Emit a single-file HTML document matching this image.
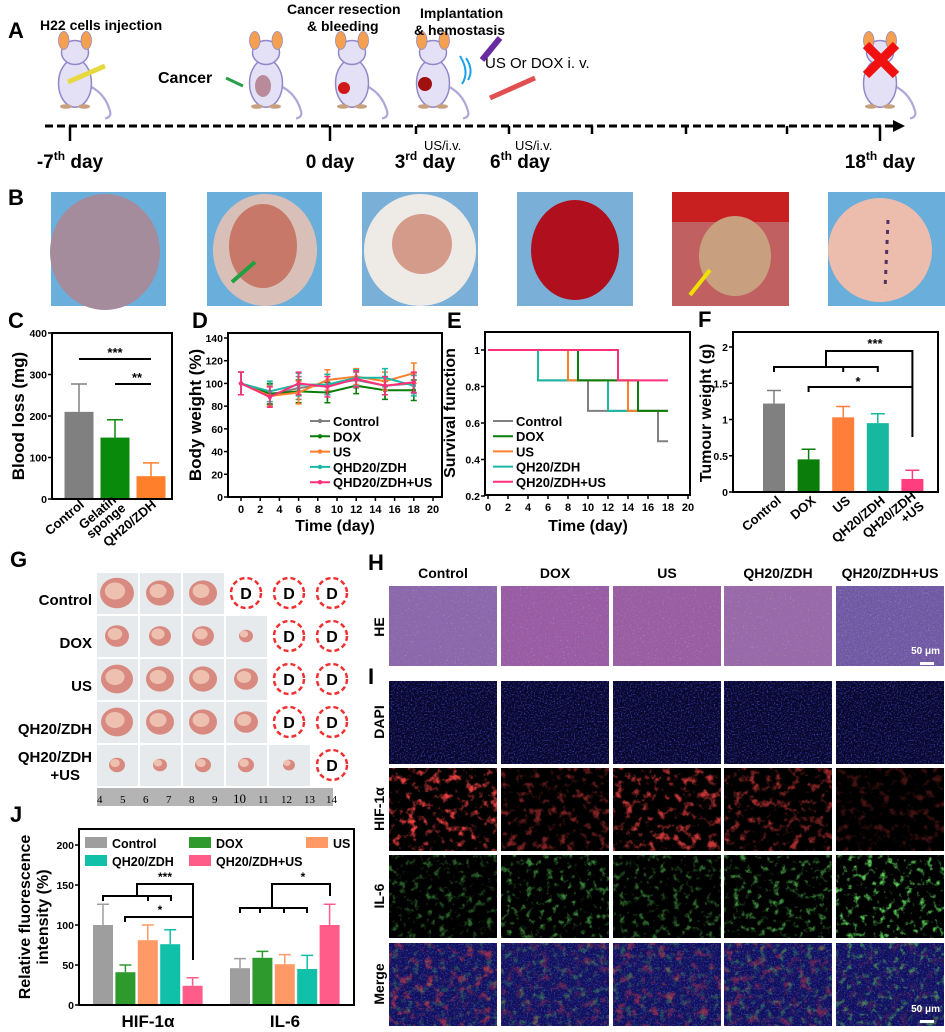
<!DOCTYPE html>
<html><head><meta charset="utf-8"><style>
body{margin:0;background:#fff}
svg{display:block;font-family:"Liberation Sans",Arial,sans-serif}
.b{font-weight:bold}
</style></head><body>
<svg id="fig" width="945" height="1032" viewBox="0 0 945 1032" xmlns="http://www.w3.org/2000/svg">
<defs>
<filter id="heT" x="0" y="0" width="1" height="1"><feTurbulence type="fractalNoise" baseFrequency="0.7" numOctaves="2" seed="3"/><feColorMatrix type="matrix" values="0 0 0 0 0.3  0 0 0 0 0.15  0 0 0 0 0.5  2.4 0 0 0 -1"/></filter>
<filter id="heL" x="0" y="0" width="1" height="1"><feTurbulence type="fractalNoise" baseFrequency="0.6" numOctaves="1" seed="11"/><feColorMatrix type="matrix" values="0 0 0 0 0.85  0 0 0 0 0.7  0 0 0 0 0.85  3 0 0 0 -1.9"/></filter>
<filter id="blT" x="0" y="0" width="1" height="1"><feTurbulence type="fractalNoise" baseFrequency="0.7" numOctaves="1" seed="5"/><feColorMatrix type="matrix" values="0 0 0 0 0.1  0 0 0 0 0.1  0 0 0 0 0.85  3 0 0 0 -1.5"/></filter>
<filter id="rdT" x="0" y="0" width="1" height="1"><feTurbulence type="fractalNoise" baseFrequency="0.12" numOctaves="4" seed="7"/><feColorMatrix type="matrix" values="0 0 0 0 0.8  0 0 0 0 0.05  0 0 0 0 0.05  4 0 0 0 -2.1"/></filter>
<filter id="gnT" x="0" y="0" width="1" height="1"><feTurbulence type="fractalNoise" baseFrequency="0.15" numOctaves="4" seed="9"/><feColorMatrix type="matrix" values="0 0 0 0 0.1  0 0 0 0 0.6  0 0 0 0 0.1  4 0 0 0 -2.2"/></filter>
<g id="mouse">
<path d="M22 60 Q40 70 46 90 Q50 100 40 102" fill="none" stroke="#b0a8d8" stroke-width="3"/>
<ellipse cx="0" cy="55" rx="22" ry="32" fill="#e4e0f6" stroke="#9088c8" stroke-width="2"/>
<ellipse cx="0" cy="14" rx="18" ry="16" fill="#e4e0f6" stroke="#9088c8" stroke-width="2"/>
<ellipse cx="-15" cy="-2" rx="7" ry="12" fill="#f4a050" stroke="#9088c8"/>
<ellipse cx="15" cy="-2" rx="7" ry="12" fill="#f4a050" stroke="#9088c8"/>
<ellipse cx="-12" cy="86" rx="8" ry="3" fill="#c8a080"/><ellipse cx="12" cy="86" rx="8" ry="3" fill="#c8a080"/>
</g>
</defs>

<!-- Panel A -->
<g>
<text x="8" y="38" class="b" font-size="22">A</text>
<use href="#mouse" transform="translate(75 42) scale(0.75)"/>
<use href="#mouse" transform="translate(266 42) scale(0.75)"/>
<use href="#mouse" transform="translate(352 42) scale(0.75)"/>
<use href="#mouse" transform="translate(433 42) scale(0.75)"/>
<use href="#mouse" transform="translate(880 42) scale(0.75)"/>
<text x="40" y="30" class="b" font-size="14">H22 cells injection</text>
<text x="287" y="14" class="b" font-size="14">Cancer resection</text>
<text x="307" y="31" class="b" font-size="14">&amp; bleeding</text>
<text x="420" y="18" class="b" font-size="14">Implantation</text>
<text x="414" y="35" class="b" font-size="14">&amp; hemostasis</text>
<text x="485" y="68" font-size="15">US Or DOX i. v.</text>
<text x="158" y="83" class="b" font-size="16">Cancer</text>
<path d="M226 78 L243 86" stroke="#2a9d4a" stroke-width="3"/>
<ellipse cx="263" cy="86" rx="8" ry="11" fill="#b88a9a"/>
<circle cx="344" cy="88" r="6" fill="#d01818"/>
<circle cx="425" cy="84" r="7" fill="#a01010"/>
<path d="M68 82 L105 66" stroke="#e8d840" stroke-width="5"/>
<path d="M490 98 L535 78" stroke="#e05050" stroke-width="5"/>
<path d="M482 60 L500 38" stroke="#6a2aa0" stroke-width="6"/>
<path d="M466 58 Q474 70 468 80 M460 56 Q470 72 462 84" fill="none" stroke="#1aa0e8" stroke-width="2"/>
<path d="M866 45 L896 75 M896 45 L866 75" stroke="#f01010" stroke-width="9"/>
<line x1="45" y1="126" x2="895" y2="126" stroke="#000" stroke-width="3" stroke-dasharray="8,4"/>
<path d="M893 120 L905 126 L893 132 Z" fill="#000"/>
<g stroke="#000" stroke-width="2.5">
<line x1="70" y1="126" x2="70" y2="141"/><line x1="330" y1="126" x2="330" y2="141"/><line x1="416" y1="126" x2="416" y2="134"/><line x1="509" y1="126" x2="509" y2="134"/><line x1="592" y1="126" x2="592" y2="134"/><line x1="686" y1="126" x2="686" y2="134"/><line x1="787" y1="126" x2="787" y2="134"/><line x1="880" y1="126" x2="880" y2="141"/>
</g>
<g class="b" font-size="19" text-anchor="middle">
<text x="70" y="168">-7<tspan font-size="12" dy="-8">th</tspan><tspan dy="8"> day</tspan></text>
<text x="330" y="168">0 day</text>
<text x="425" y="168">3<tspan font-size="12" dy="-8">rd</tspan><tspan dy="8"> day</tspan></text>
<text x="520" y="168">6<tspan font-size="12" dy="-8">th</tspan><tspan dy="8"> day</tspan></text>
<text x="880" y="168">18<tspan font-size="12" dy="-8">th</tspan><tspan dy="8"> day</tspan></text>
</g>
<text x="424" y="150" font-size="13">US/i.v.</text>
<text x="515" y="150" font-size="13">US/i.v.</text>
</g>

<!-- Panel B -->
<g>
<text x="8" y="205" class="b" font-size="22">B</text>
<g><rect x="51" y="192" width="115" height="114" fill="#6aaedc"/><ellipse cx="105" cy="252" rx="55" ry="58" fill="#a48c9c"/></g>
<g><rect x="207" y="192" width="115" height="114" fill="#6aaedc"/><ellipse cx="265" cy="250" rx="52" ry="56" fill="#d8c0b8"/><ellipse cx="263" cy="246" rx="34" ry="42" fill="#c87868"/><path d="M232 282 L255 262" stroke="#20a040" stroke-width="4"/></g>
<g><rect x="362" y="192" width="116" height="114" fill="#7ab0d8"/><ellipse cx="420" cy="250" rx="56" ry="56" fill="#eeeae6"/><ellipse cx="422" cy="244" rx="30" ry="30" fill="#d49a8a"/></g>
<g><rect x="517" y="192" width="116" height="114" fill="#7ab0d8"/><ellipse cx="575" cy="250" rx="44" ry="50" fill="#b0101e"/></g>
<g><rect x="672" y="192" width="117" height="114" fill="#c06060"/><rect x="672" y="192" width="117" height="30" fill="#c82020"/><ellipse cx="735" cy="256" rx="36" ry="40" fill="#c8a080"/><path d="M690 295 L710 270" stroke="#f0e000" stroke-width="4"/></g>
<g><rect x="828" y="192" width="117" height="114" fill="#6aaedc"/><ellipse cx="880" cy="250" rx="52" ry="52" fill="#ecbcac"/><path d="M888 220 L885 290" stroke="#503060" stroke-width="3" stroke-dasharray="4,6"/></g>
</g>

<text x="8" y="328" class="b" font-size="22">C</text>
<text x="192" y="328" class="b" font-size="22">D</text>
<text x="447" y="328" class="b" font-size="22">E</text>
<text x="698" y="327" class="b" font-size="22">F</text>
<text x="10" y="567" class="b" font-size="22">G</text>
<text x="368" y="570" class="b" font-size="22">H</text>
<text x="368" y="684" class="b" font-size="22">I</text>
<text x="10" y="822" class="b" font-size="22">J</text>

<g id="charts"></g>

<g id="panelG">
<g class="b" font-size="15" text-anchor="end">
<text x="92" y="605">Control</text>
<text x="92" y="648">DOX</text>
<text x="92" y="691">US</text>
<text x="92" y="734">QH20/ZDH</text>
<text x="92" y="762">QH20/ZDH</text>
<text x="80" y="780">+US</text>
</g>
<rect x="97" y="788" width="236" height="18" fill="#b4b4b4"/>
<g font-family="Liberation Serif,serif" font-size="11">
<text x="97" y="803">4</text><text x="120" y="803">5</text><text x="143" y="803">6</text><text x="166" y="803">7</text><text x="189" y="803">8</text><text x="212" y="803">9</text><text x="233" y="803" font-size="13">10</text><text x="258" y="803">11</text><text x="281" y="803">12</text><text x="304" y="803">13</text><text x="326" y="803">14</text>
</g>
</g>

<g id="panelHI"></g>
</svg>
<script>
const NS='http://www.w3.org/2000/svg';
function mk(tag,attrs,parent){const e=document.createElementNS(NS,tag);for(const k in attrs)e.setAttribute(k,attrs[k]);if(parent)parent.appendChild(e);return e;}
function tx(str,attrs,parent){const e=mk('text',attrs,parent);e.textContent=str;return e;}
const charts=document.getElementById('charts');

// ---------- data ----------
const cCats=['Control','Gelatin sponge','QH20/ZDH'];
const cVals=[210,148,55];
const cErr=[67,43,32];
const cTicks=[0,100,200,300,400];

const dDays=[0,3,6,9,12,15,18];
const dSeriesNames=['Control','DOX','US','QHD20/ZDH','QHD20/ZDH+US'];
const dControl=[100,90,96,99,103,98,100];
const dDox=[100,91,93,92,98,94,94];
const dUs=[100,89,92,103,106,102,109];
const dQh=[100,93,99,99,105,105,98];
const dQhUs=[100,88,100,97,104,98,101];
const dErr=[10,9,10,9,7,8,9];
const dYTicks=[0,20,40,60,80,100,120,140];
const dXTicks=[0,2,4,6,8,10,12,14,16,18,20];

const eNames=['Control','DOX','US','QH20/ZDH','QH20/ZDH+US'];
const eDropControl=[5,10,17];
const eDropDox=[9,15];
const eDropUs=[8,14];
const eDropQh=[5,12];
const eDropQhUs=[13];
const eYTicks=[0.2,0.4,0.6,0.8,1];
const eXTicks=[0,2,4,6,8,10,12,14,16,18,20];

const fCats=['Control','DOX','US','QH20/ZDH','QH20/ZDH +US'];
const fVals=[1.22,0.45,1.03,0.95,0.18];
const fErr=[0.18,0.14,0.15,0.13,0.12];
const fTicks=[0,0.5,1,1.5,2];

const jGroups=['HIF-1α','IL-6'];
const jNames=['Control','DOX','US','QH20/ZDH','QH20/ZDH+US'];
const jHif=[100,41,81,76,24];
const jHifErr=[26,9,19,18,10];
const jIl6=[46,59,51,45,100];
const jIl6Err=[12,8,12,17,26];
const jTicks=[0,50,100,150,200];

const gRows=['Control','DOX','US','QH20/ZDH','QH20/ZDH+US'];
const gTumorCounts=[3,4,4,4,5];
const gSizes=[[17,14,14],[12,11,11,7],[16,14,14,12],[16,14,14,12],[8,7,8,8,6]];

const COL5=['#808080','#0a7d0a','#ff7f2a','#1ab8a4','#ff2f7a'];

function yAxis(g,x,ticks,sc,fmt){
  for(const t of ticks){
    const y=sc(t);
    const l=mk('line',{x1:x-4,y1:y,x2:x,y2:y,stroke:'#000','stroke-width':1.5},g);
    
    
    const lb=tx(fmt?fmt(t):String(t),{x:x-5,y:y+4,'text-anchor':'end','font-size':10.5,'font-weight':'bold'},g);
    
    
  }
}
function xAxisTicks(g,y,ticks,sc){
  for(const t of ticks){
    const x=sc(t);
    const l=mk('line',{x1:x,y1:y,x2:x,y2:y+4,stroke:'#000','stroke-width':1.5},g);
    
    
    const lb=tx(String(t),{x:x,y:y+16,'text-anchor':'middle','font-size':11,'font-weight':'bold'},g);
    
    
  }
}
function frame(g,x1,y1,x2,y2){
  const r=mk('rect',{x:x1,y:y1,width:x2-x1,height:y2-y1,fill:'none',stroke:'#000','stroke-width':2},g);
  
  
}
function errBar(g,x,y1,y2,w,col){
  const p=mk('path',{d:`M${x} ${y1} V${y2} M${x-w} ${y2} H${x+w}`,stroke:col,'stroke-width':1.5,fill:'none'},g);
  
  
}
function ytitle(g,str,x,y,size){
  const t=tx(str,{x:x,y:y,'text-anchor':'middle','font-size':size||16,'font-weight':'bold',transform:`rotate(-90 ${x} ${y})`},g);
  
  
}
function line(g,d,col,w){
  return mk('path',{d:d,stroke:col,'stroke-width':w||2,fill:'none'},g);
}

// ---------- C ----------
(function(){
  const g=mk('g',{},charts);
  
  
  const X0=52,X1=172,Y0=499,Y1=333;
  const ys=v=>Y0-v*(Y0-Y1)/400;
  const xc=i=>79+i*36;
  const cols=['#808080','#0a8a0a','#ff7f2a'];
  cVals.forEach((v,i)=>{
    errBar(g,xc(i),ys(v),ys(v+cErr[i]),8,cols[i]);
    const b=mk('rect',{x:xc(i)-14.5,y:ys(v),width:29,height:Y0-ys(v),fill:cols[i]},g);
    
    
  });
  frame(g,X0,Y1,X1,Y0);
  yAxis(g,X0,cTicks,ys);
  ytitle(g,'Blood loss (mg)',24,416,17);
  const s1=line(g,`M${xc(0)} 359 H${xc(2)}`,'#000',2);
  
  
  const s2=line(g,`M${xc(1)} 384 H${xc(2)}`,'#000',2);
  
  
  const t1=tx('***',{x:(xc(0)+xc(2))/2,y:357,'text-anchor':'middle','font-size':13,'font-weight':'bold'},g);
  
  
  const t2=tx('**',{x:(xc(1)+xc(2))/2+4,y:382,'text-anchor':'middle','font-size':13,'font-weight':'bold'},g);
  
  
  const labs=[['Control'],['Gelatin','sponge'],['QH20/ZDH']];
  labs.forEach((ls,i)=>{
    const x=xc(i)+6,y=506;
    const t=mk('text',{x:x,y:y-(ls.length>1?6:0),'text-anchor':'end','font-size':13,'font-weight':'bold',transform:`rotate(-40 ${x} ${y})`},g);
    
    
    ls.forEach((s,k)=>{const sp=mk('tspan',{x:x+(k?2:0),dy:k?12:0},t);sp.textContent=s;});
  });
})();

// ---------- D ----------
(function(){
  const g=mk('g',{},charts);
  
  
  const X0=228,X1=442,Y0=497,Y1=333;
  const xs=d=>241+d*9.6;
  const ys=v=>Y0-v*(159/140);
  const series=[dControl,dDox,dUs,dQh,dQhUs];
  const cols=['#808080','#0a7d0a','#ff7f2a','#1ab8a4','#ff2f7a'];
  series.forEach((s,si)=>{
    const eg=mk('g',{},g);
    
    
    s.forEach((v,i)=>{errBar(eg,xs(dDays[i]),ys(v-dErr[i]),ys(v+dErr[i]),3,cols[si]);errBar(eg,xs(dDays[i]),ys(v+dErr[i]),ys(v-dErr[i]),3,cols[si]);});
    const p=line(eg,s.map((v,i)=>(i?'L':'M')+xs(dDays[i])+' '+ys(v)).join(' '),cols[si],2);
    
    
    s.forEach((v,i)=>{
      const c=mk('circle',{cx:xs(dDays[i]),cy:ys(v),r:2.2,fill:cols[si]},eg);
      
      
    });
  });
  frame(g,X0,Y1,X1,Y0);
  yAxis(g,X0,dYTicks,ys);
  xAxisTicks(g,Y0,dXTicks,xs);
  ytitle(g,'Body weight (%)',201,415,17);
  const xt=tx('Time (day)',{x:335,y:531,'text-anchor':'middle','font-size':16,'font-weight':'bold'},g);
  
  
  dSeriesNames.forEach((n,i)=>{
    const y=421+i*15.3;
    const le=mk('g',{},g);
    
    
    line(le,`M310 ${y} H330`,cols[i],2);
    mk('circle',{cx:320,cy:y,r:2.2,fill:cols[i]},le);
    tx(n,{x:333,y:y+5,'font-size':13,'font-weight':'bold'},le);
  });
})();

// ---------- E ----------
(function(){
  const g=mk('g',{},charts);
  
  
  const X0=485,X1=690,Y0=495,Y1=332;
  const xs=d=>488+d*10;
  const ys=v=>350+(1-v)*182.5;
  const drops=[eDropControl,eDropDox,eDropUs,eDropQh,eDropQhUs];
  const order=[0,3,2,1,4];
  order.forEach(si=>{
    let d=`M${xs(0)} ${ys(1)}`;let v=1;
    drops[si].forEach(t=>{d+=` H${xs(t)}`;v-=1/6;d+=` V${ys(v)}`;});
    d+=` H${xs(18)}`;
    const p=line(g,d,COL5[si],2);
    
    
  });
  frame(g,X0,Y1,X1,Y0);
  yAxis(g,X0,eYTicks,ys,t=>t===1?'1':t.toFixed(1));
  xAxisTicks(g,Y0,eXTicks,xs);
  ytitle(g,'Survival function',455,413,16);
  const xt=tx('Time (day)',{x:588,y:531,'text-anchor':'middle','font-size':16,'font-weight':'bold'},g);
  
  
  eNames.forEach((n,i)=>{
    const y=421+i*15.2;
    const le=mk('g',{},g);
    
    
    line(le,`M493 ${y} H513`,COL5[i],2);
    tx(n,{x:516,y:y+5,'font-size':13,'font-weight':'bold'},le);
  });
})();

// ---------- F ----------
(function(){
  const g=mk('g',{},charts);
  
  
  const X0=733,X1=938,Y0=492,Y1=332;
  const ys=v=>Y0-v*72.5;
  const xc=i=>774+i*34.6;
  const cols=['#808080','#0a7d0a','#ff7f3a','#17b8a0','#ff3d7f'];
  fVals.forEach((v,i)=>{
    errBar(g,xc(i),ys(v),ys(v+fErr[i]),7,cols[i]);
    const b=mk('rect',{x:xc(i)-11,y:ys(v),width:22,height:Y0-ys(v),fill:cols[i]},g);
    
    
  });
  frame(g,X0,Y1,X1,Y0);
  yAxis(g,X0,fTicks,ys);
  ytitle(g,'Tumour weight (g)',711,413,16);
  const br=line(g,`M${xc(0)} 372 V367 H${xc(3)} V372 M${xc(2)} 367 V372 M826 367 V351 H${xc(4)} V437 M${xc(1)} 392 V387 H${xc(4)}`,'#000',2);
  
  
  const s1=tx('***',{x:875,y:348,'text-anchor':'middle','font-size':13,'font-weight':'bold'},g);
  
  
  const s2=tx('*',{x:858,y:386,'text-anchor':'middle','font-size':13,'font-weight':'bold'},g);
  
  
  const labs=[['Control'],['DOX'],['US'],['QH20/ZDH'],['QH20/ZDH','+US']];
  labs.forEach((ls,i)=>{
    const x=xc(i)+8,y=502;
    const t=mk('text',{x:x,y:y-(ls.length>1?6:0),'text-anchor':'end','font-size':13,'font-weight':'bold',transform:`rotate(-40 ${x} ${y})`},g);
    
    
    ls.forEach((s,k)=>{const sp=mk('tspan',{x:x,dy:k?13:0},t);sp.textContent=s;});
  });
})();

// ---------- J ----------
(function(){
  const g=mk('g',{},charts);
  
  
  const X0=79,X1=354,Y0=1005,Y1=829;
  const ys=v=>Y0-v*0.8;
  const cols=['#9e9e9e','#2e9a2e','#ff9966','#10c0a8','#ff5c8a'];
  const groups=[[jHif,jHifErr,93],[jIl6,jIl6Err,230]];
  groups.forEach(([vals,errs,x0],gi)=>{
    vals.forEach((v,i)=>{
      const x=x0+i*22.4;
      errBar(g,x+10,ys(v),ys(v+errs[i]),6,cols[i]);
      const b=mk('rect',{x:x,y:ys(v),width:20,height:Y0-ys(v),fill:cols[i]},g);
      
      
    });
    const lb=tx(jGroups[gi],{x:x0+55,y:1027,'text-anchor':'middle','font-size':17,'font-weight':'bold'},g);
    
    
  });
  frame(g,X0,Y1,X1,Y0);
  yAxis(g,X0,jTicks,ys);
  ytitle(g,'Relative fluorescence',30,917,16);
  ytitle(g,'intensity (%)',48,917,16);
  const br=line(g,`M103 901 V896 H171 V901 M148 896 V901 M137 896 V884 H193 V960 M125 922 V917 H193 M240 913 V908 H307 V913 M260 908 V913 M284 908 V913 M272 908 V884 H330 V896`,'#000',2);
  
  
  [['***',165,881],['*',160,914],['*',303,881]].forEach(([s,x,y])=>{
    const t=tx(s,{x:x,y:y,'text-anchor':'middle','font-size':12,'font-weight':'bold'},g);
    
    
  });
  const lp=[[85,843],[189,843],[306,843],[85,861],[189,861]];
  jNames.forEach((n,i)=>{
    const le=mk('g',{},g);
    
    
    mk('rect',{x:lp[i][0],y:lp[i][1]-6,width:22,height:11,fill:cols[i]},le);
    tx(n,{x:lp[i][0]+27,y:lp[i][1]+5,'font-size':12.5,'font-weight':'bold'},le);
  });
})();

// ---------- G ----------
(function(){
  const g=document.getElementById('panelG');
  gRows.forEach((r,ri)=>{
    for(let c=0;c<6;c++){
      const x=97+c*43,y=573+ri*43;
      if(c<gTumorCounts[ri]){
        const cell=mk('g',{},g);
        
        
        mk('rect',{x:x,y:y,width:41,height:41,fill:'#e6eaec'},cell);
        const s=gSizes[ri][c];
        mk('ellipse',{cx:x+20,cy:y+20,rx:s,ry:s*0.9,fill:'#d88a80'},cell);
        mk('ellipse',{cx:x+18,cy:y+18,rx:s*0.6,ry:s*0.5,fill:'#eec0b0'},cell);
      } else if(x<340){
        const cell=mk('g',{},g);
        
        
        mk('circle',{cx:x+20,cy:y+20,r:15,fill:'none',stroke:'#f03030','stroke-width':2.5,'stroke-dasharray':'5,3'},cell);
        tx('D',{x:x+20,y:y+26,'text-anchor':'middle','font-size':16,'font-weight':'bold'},cell);
      }
    }
  });
})();

// ---------- H / I ----------
(function(){
  const g=document.getElementById('panelHI');
  const cols=['Control','DOX','US','QH20/ZDH','QH20/ZDH+US'];
  const xs=[389,501,613,724,836];
  cols.forEach((c,i)=>{
    const t=tx(c,{x:xs[i]+54,y:578,'text-anchor':'middle','font-size':14,'font-weight':'bold'},g);
    
    
  });
  const heBase=['#8a68a8','#9a5aa0','#9a5c9c','#9a6aa4','#6a58a0'];
  const rows=[['HE',586],['DAPI',681],['HIF-1α',768],['IL-6',855],['Merge',943]];
  const hifA=[1,0.55,0.85,0.7,0.3];
  const il6A=[0.5,0.65,0.55,0.7,1];
  rows.forEach(([lab,y],ri)=>{
    const lt=tx(lab,{x:384,y:y+41,'text-anchor':'middle','font-size':14,'font-weight':'bold',transform:`rotate(-90 384 ${y+41})`},g);
    
    
    xs.forEach((x,ci)=>{
      const im=mk('g',{},g);
      
      
      const h=ri===0?80:83;
      if(ri===0){
        mk('rect',{x:x,y:y,width:108,height:h,fill:heBase[ci]},im);
        mk('rect',{x:x,y:y,width:108,height:h,filter:'url(#heT)',opacity:0.8},im);
        mk('rect',{x:x,y:y,width:108,height:h,filter:'url(#heL)',opacity:0.5},im);
      } else if(ri===1){
        mk('rect',{x:x,y:y,width:108,height:h,fill:'#08082e'},im);
        mk('rect',{x:x,y:y,width:108,height:h,filter:'url(#blT)',opacity:0.75},im);
      } else if(ri===2){
        mk('rect',{x:x,y:y,width:108,height:h,fill:'#000'},im);
        mk('rect',{x:x,y:y,width:108,height:h,filter:'url(#rdT)',opacity:hifA[ci]},im);
      } else if(ri===3){
        mk('rect',{x:x,y:y,width:108,height:h,fill:'#000'},im);
        mk('rect',{x:x,y:y,width:108,height:h,filter:'url(#gnT)',opacity:il6A[ci]},im);
      } else {
        mk('rect',{x:x,y:y,width:108,height:h,fill:'#10105a'},im);
        mk('rect',{x:x,y:y,width:108,height:h,filter:'url(#blT)',opacity:0.7},im);
        mk('rect',{x:x,y:y,width:108,height:h,filter:'url(#rdT)',opacity:hifA[ci]*0.6},im);
        mk('rect',{x:x,y:y,width:108,height:h,filter:'url(#gnT)',opacity:il6A[ci]*0.6},im);
      }
    });
  });
  [[925,662,940,650],[925,1020,940,1008]].forEach(([x,y,tx2,ty])=>{
    const r=mk('rect',{x:x-5,y:y,width:14,height:3,fill:'#fff'},g);
    
    
    const t=tx('50 μm',{x:tx2,y:ty+4,'text-anchor':'end','font-size':10,'font-weight':'bold',fill:'#fff'},g);
    
    
  });
})();
</script>
</body></html>
